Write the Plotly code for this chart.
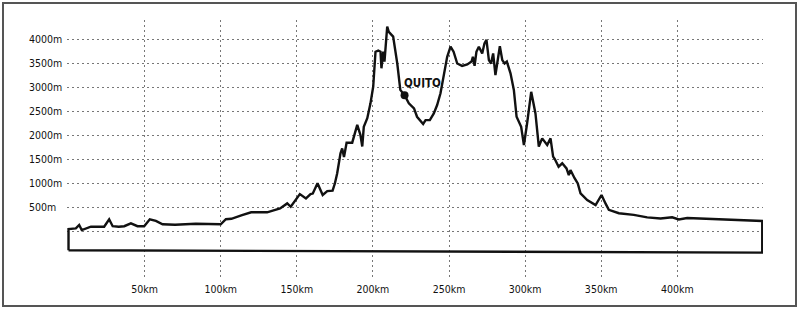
import plotly.graph_objects as go

# ---- data ----
dist_km = [0, 4.8, 7, 8.7, 11.4, 14.7, 23.4, 26.7, 29, 33, 36.6, 41, 45.3, 49.7, 53.4, 57.4, 61.8,
           70, 83.6, 100, 103.4, 107, 114, 120, 130.5, 139, 143.7, 146, 152, 156, 159, 160.5,
           163.6, 167, 170, 173.5, 175, 176.5, 178.7, 179.8, 181, 182.7, 186.4, 189.7, 191.8,
           193, 194, 196.3, 198.4, 200.2, 201.7, 203.5, 205, 205.6, 206.8, 207.6, 209.4, 210.4,
           213.3, 216, 218, 220.8, 223.6, 227, 229, 231.3, 233, 234.6, 237.4, 240, 242.2, 244.4,
           246.6, 248.8, 251, 253, 255.4, 258.6, 262, 264.8, 265.7, 266.8, 268, 269.6, 271.8,
           273.3, 274.6, 276.2, 277.6, 279, 280.5, 282, 283.4, 285, 286.5, 288, 290.4, 292.6,
           294.4, 297.4, 299.2, 301.3, 304, 306.8, 309, 311.2, 314.5, 316.7, 318.4, 319.5, 322,
           324.4, 327.2, 328.7, 329.8, 332.5, 334.6, 336.4, 340.8, 346.3, 350.2, 352.8, 355,
           361.6, 371.4, 380.2, 389, 396.6, 401, 406.5, 415.2, 437, 455.8]
elev_m = [40, 55, 125, 20, 55, 90, 90, 245, 100, 90, 100, 160, 100, 100, 245, 210, 140,
          130, 150, 140, 245, 255, 330, 390, 390, 470, 575, 505, 770, 680, 770, 780,
          995, 750, 830, 840, 990, 1200, 1620, 1720, 1540, 1840, 1840, 2210, 2000,
          1760, 2170, 2350, 2660, 3010, 3735, 3760, 3735, 3390, 3735, 3530, 4260, 4150,
          4050, 3490, 2940, 2830, 2660, 2555, 2380, 2280, 2230, 2310, 2310, 2450, 2625, 2870,
          3250, 3630, 3840, 3735, 3490, 3440, 3470, 3530, 3630, 3440, 3735, 3840, 3700,
          3910, 3980, 3560, 3490, 3700, 3250, 3560, 3850, 3560, 3490, 3530, 3285, 2940,
          2380, 2170, 1790, 2240, 2900, 2450, 1760, 1930, 1790, 1930, 1550, 1500, 1340,
          1410, 1305, 1165, 1270, 1100, 990, 785, 645, 540, 750, 575, 440,
          370, 335, 285, 260, 285, 240, 270, 260, 240, 210]
base_left_m = -400
base_right_m = -450

x_ticks = [50, 100, 150, 200, 250, 300, 350, 400]
x_labels = ["50km", "100km", "150km", "200km", "250km", "300km", "350km", "400km"]
y_grid = [0, 500, 1000, 1500, 2000, 2500, 3000, 3500, 4000]
y_labels = ["", "500m", "1000m", "1500m", "2000m", "2500m", "3000m", "3500m", "4000m"]

city_name = "QUITO"
city_km = 220.8
city_m = 2830

# ---- figure ----
FONT = "Liberation Sans Narrow, Arial Narrow, DejaVu Sans Condensed, DejaVu Sans, sans-serif"
W, H = 799, 309
ML, MR, MT, MB = 67, 36, 20, 32
PW, PH = W - ML - MR, H - MT - MB

bx = [dist_km[0]] + dist_km + [dist_km[-1], dist_km[0]]
by = [base_left_m] + elev_m + [base_right_m, base_left_m]

fig = go.Figure()
fig.add_trace(go.Scatter(x=bx, y=by, mode="lines",
                         line=dict(color="#111111", width=2.4),
                         hoverinfo="skip", showlegend=False))
fig.add_trace(go.Scatter(x=[city_km], y=[city_m], mode="markers",
                         marker=dict(color="#111111", size=8),
                         showlegend=False))

fig.add_annotation(x=city_km - 1.5, y=city_m + 250, xref="x", yref="y",
                   text="<b>" + city_name + "</b>", showarrow=False,
                   xanchor="left", yanchor="middle",
                   font=dict(family=FONT, size=11.5, color="#111111"))

for v, t in zip(y_grid, y_labels):
    if t:
        fig.add_annotation(x=(27 - ML) / PW, y=v, xref="paper", yref="y",
                           text=t, showarrow=False, xanchor="left", yanchor="middle",
                           font=dict(family=FONT, size=10.5, color="#111111"))

# outer frame
fig.add_shape(type="rect", xref="paper", yref="paper",
              x0=(3 - ML) / PW, x1=(796 - ML) / PW,
              y0=(MT + PH - 306) / PH, y1=(MT + PH - 3) / PH,
              line=dict(color="#555555", width=2), fillcolor="rgba(0,0,0,0)", layer="below")

fig.update_layout(
    width=W, height=H,
    margin=dict(l=ML, r=MR, t=MT, b=MB, pad=0),
    paper_bgcolor="white", plot_bgcolor="white",
    font=dict(family=FONT, size=10.5, color="#111111"),
    xaxis=dict(range=[-1, 456.3], tickmode="array", tickvals=x_ticks, ticktext=x_labels,
               showgrid=True, gridcolor="#777777", gridwidth=1.2, griddash="2px,3px",
               zeroline=False, showline=False, ticks="", ticklabelstandoff=4,
               tickfont=dict(family=FONT, size=10.5, color="#111111")),
    yaxis=dict(range=[-958, 4396], tickmode="array", tickvals=y_grid,
               ticktext=["" for _ in y_grid],
               showgrid=True, gridcolor="#777777", gridwidth=1.2, griddash="2px,3px",
               zeroline=False, showline=False, ticks=""),
)

fig.write_html("out.html", config={"displayModeBar": False},
               post_script="document.body.style.margin='0';document.body.style.overflow='hidden';")
